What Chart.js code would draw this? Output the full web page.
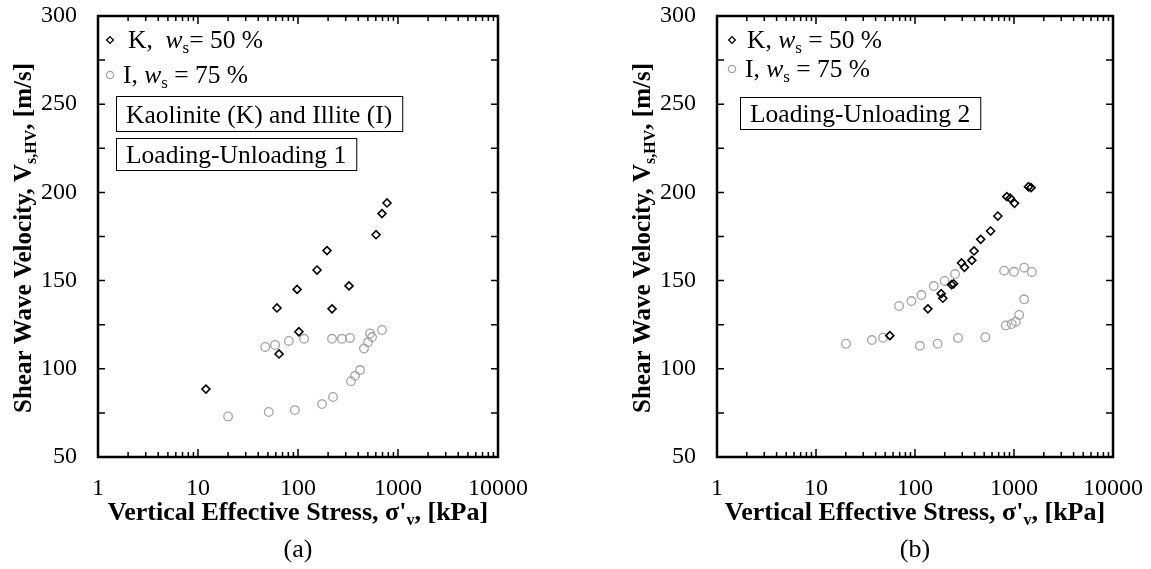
<!DOCTYPE html>
<html>
<head>
<meta charset="utf-8">
<script src="https://cdn.jsdelivr.net/npm/chart.js@4.4.0/dist/chart.umd.min.js"></script>
<style>
body { margin: 0; background: #fff; width: 1151px; height: 569px; overflow: hidden; position: relative; }
.pane { position: absolute; top: 0; height: 569px; }
</style>
</head>
<body>
<div class="pane" style="left:0;width:575px"><canvas id="chartA"></canvas></div>
<div class="pane" style="left:619px;width:532px"><canvas id="chartB"></canvas></div>
<script>
// (a) Loading-Unloading 1
var kStressA = [12, 61.6, 64.6, 98, 102, 155, 195, 219, 324, 603, 692, 776];
var kVsA = [88.5, 134.5, 108.4, 145, 121, 156, 167, 134, 147, 176, 188, 194];
var iStressA = [20, 51, 93, 174, 224, 339, 372, 417, 457, 501, 550, 525, 692, 331, 275, 219, 115, 81, 59, 47];
var iVsA = [73, 75.5, 76.6, 80, 84, 93, 96, 99.3, 111.5, 115, 118, 120, 122, 117.5, 117, 117, 117, 115.8, 113.5, 112.4];

// (b) Loading-Unloading 2
var kStressB = [55.7, 135, 184, 191, 234, 245, 295, 316, 375, 395, 461, 580, 687, 847, 916, 1012, 1399, 1487];
var kVsB = [118.8, 134, 142.6, 140, 147.7, 148.2, 160, 157.5, 161.5, 166.8, 173.4, 178.1, 186.6, 197.6, 196.7, 193.8, 203.2, 202.7];
var iStressB = [20.1, 36.7, 47.6, 69, 91.8, 116, 155, 199, 254, 112, 169, 272, 513, 828, 950, 1042, 1127, 1265, 795, 1000, 1265, 1514];
var iVsB = [114.2, 116.3, 117.6, 135.6, 138.4, 141.8, 146.9, 149.8, 153.7, 113, 114.2, 117.5, 117.9, 124.6, 125.4, 126.7, 130.5, 139.4, 155.6, 155, 157.3, 154.9];

var xTickLabels = [1, 10, 100, 1000, 10000];
var yTickLabels = [50, 100, 150, 200, 250, 300];

var serif = "'Liberation Serif', 'Times New Roman', serif";
var grey = '#a3a3a3';

function pts(xs, ys) {
    var out = [];
    for (let i = 0; i < xs.length; i++) {
        out.push({ x: xs[i], y: ys[i] });
    }
    return out;
}

// draws a row of text pieces (for italics / subscripts)
function richWidth(ctx, parts) {
    var w = 0;
    parts.forEach(function (p) { ctx.font = p.f; w += ctx.measureText(p.t).width; });
    return w;
}
function drawRich(ctx, parts, x, y) {
    parts.forEach(function (p) {
        ctx.font = p.f;
        ctx.fillText(p.t, x, y + (p.dy || 0));
        x += ctx.measureText(p.t).width;
    });
}

var framePlugin = {
    id: 'frame',
    afterDatasetsDraw: function (chart) {
        var ctx = chart.ctx, a = chart.chartArea;
        var xs = chart.scales.x, ys = chart.scales.y;
        ctx.save();
        ctx.strokeStyle = '#000';
        ctx.lineWidth = 1.5;
        ctx.beginPath();
        for (let v = 50; v <= 300; v += 25) {
            var py = ys.getPixelForValue(v);
            ctx.moveTo(a.left, py); ctx.lineTo(a.left + 7, py);
            ctx.moveTo(a.right, py); ctx.lineTo(a.right - 7, py);
        }
        for (let d = 1; d <= 1000; d *= 10) {
            for (let m = 1; m <= 9; m++) {
                var px = xs.getPixelForValue(m * d);
                var len = m == 1 ? 8 : 5;
                ctx.moveTo(px, a.bottom); ctx.lineTo(px, a.bottom - len);
                ctx.moveTo(px, a.top); ctx.lineTo(px, a.top + len);
            }
        }
        ctx.stroke();
        ctx.lineWidth = 2.5;
        ctx.strokeRect(a.left, a.top, a.right - a.left, a.bottom - a.top);
        ctx.restore();
    },
    afterDraw: function (chart, args, opts) {
        var ctx = chart.ctx, a = chart.chartArea;
        ctx.save();
        ctx.fillStyle = '#000';
        ctx.textBaseline = 'alphabetic';

        // y axis title
        var yParts = [
            { t: 'Shear Wave Velocity, V', f: 'bold 25px ' + serif },
            { t: 's,HV', f: 'bold 16px ' + serif, dy: 5 },
            { t: ', [m/s]', f: 'bold 25px ' + serif }
        ];
        ctx.save();
        ctx.translate(31, 238);
        ctx.rotate(-Math.PI / 2);
        drawRich(ctx, yParts, -richWidth(ctx, yParts) / 2, 0);
        ctx.restore();

        // x axis title
        var xParts = [
            { t: "Vertical Effective Stress, \u03c3'", f: 'bold 26px ' + serif },
            { t: 'v', f: 'bold 16px ' + serif, dy: 5 },
            { t: ', [kPa]', f: 'bold 26px ' + serif }
        ];
        var cx = (a.left + a.right) / 2;
        drawRich(ctx, xParts, cx - richWidth(ctx, xParts) / 2, 520);

        // panel label
        ctx.font = '26px ' + serif;
        ctx.textAlign = 'center';
        ctx.fillText(opts.panel, cx, 557);
        ctx.textAlign = 'left';

        // legend
        var lx = a.left + opts.legendDx;
        chart.data.datasets.forEach(function (ds, i) {
            var ly = opts.legendY[i];
            ctx.strokeStyle = ds.borderColor;
            ctx.lineWidth = 1.3;
            ctx.beginPath();
            if (ds.pointStyle == 'circle') {
                ctx.arc(lx, ly, 3.6, 0, Math.PI * 2);
            } else {
                ctx.moveTo(lx, ly - 3.4); ctx.lineTo(lx + 3.4, ly); ctx.lineTo(lx, ly + 3.4); ctx.lineTo(lx - 3.4, ly); ctx.closePath();
            }
            ctx.stroke();
            drawRich(ctx, [
                { t: opts.legendText[i][0], f: '25.5px ' + serif },
                { t: 'w', f: 'italic 25.5px ' + serif },
                { t: 's', f: '17px ' + serif, dy: 5 },
                { t: opts.legendText[i][1], f: '25.5px ' + serif }
            ], lx + opts.legendGap[i], ly + 8);
        });

        // text boxes
        ctx.font = '25.5px ' + serif;
        ctx.lineWidth = 1;
        ctx.strokeStyle = '#000';
        opts.boxes.forEach(function (b) {
            var w = ctx.measureText(b.text).width + 20;
            ctx.strokeRect(b.x + 0.5, b.y + 0.5, w, b.h);
            ctx.fillText(b.text, b.x + 10, b.y + b.h / 2 + 9);
        });
        ctx.restore();
    }
};

function makeChart(id, kx, ky, ix, iy, rightPad, deco) {
    return new Chart(document.getElementById(id).getContext('2d'), {
        type: 'scatter',
        data: {
            datasets: [
                {
                    label: 'K, ws = 50 %',
                    data: pts(kx, ky),
                    pointStyle: 'rectRot',
                    pointRadius: 4,
                    borderColor: '#000',
                    backgroundColor: 'rgba(255,255,255,0)',
                    pointBorderWidth: 1.6
                },
                {
                    label: 'I, ws = 75 %',
                    data: pts(ix, iy),
                    pointStyle: 'circle',
                    pointRadius: 4.3,
                    borderColor: grey,
                    backgroundColor: 'rgba(255,255,255,0)',
                    pointBorderWidth: 1.3
                }
            ]
        },
        options: {
            responsive: true,
            maintainAspectRatio: false,
            animation: false,
            events: [],
            layout: { padding: { left: 0, top: 16, right: rightPad, bottom: 0 } },
            scales: {
                x: {
                    type: 'logarithmic',
                    min: 1,
                    max: 10000,
                    grid: { display: false, drawTicks: false },
                    border: { display: false },
                    afterFit: function (s) {
                        s.height = 112;
                        s.paddingLeft = 0;
                        s.paddingRight = 0;
                    },
                    afterBuildTicks: function (s) {
                        s.ticks = xTickLabels.map(function (v) { return { value: v }; });
                    },
                    ticks: {
                        color: '#000',
                        padding: 17,
                        maxRotation: 0,
                        autoSkip: false,
                        font: { family: serif, size: 24 },
                        callback: function (v) { return String(v); }
                    }
                },
                y: {
                    min: 50,
                    max: 300,
                    grid: { display: false, drawTicks: false },
                    border: { display: false },
                    afterFit: function (s) {
                        s.width = 98;
                        s.paddingTop = 0;
                        s.paddingBottom = 0;
                    },
                    afterBuildTicks: function (s) {
                        s.ticks = yTickLabels.map(function (v) { return { value: v }; });
                    },
                    ticks: {
                        color: '#000',
                        padding: 21,
                        font: { family: serif, size: 24 }
                    }
                }
            },
            plugins: {
                legend: { display: false },
                tooltip: { enabled: false },
                frame: deco
            }
        },
        plugins: [framePlugin]
    });
}

makeChart('chartA', kStressA, kVsA, iStressA, iVsA, 77, {
    panel: '(a)',
    legendDx: 12,
    legendY: [40, 75],
    legendGap: [18, 13],
    legendText: [['K,  ', '= 50 %'], ['I, ', ' = 75 %']],
    boxes: [
        { text: 'Kaolinite (K) and Illite (I)', x: 116, y: 96, h: 35 },
        { text: 'Loading-Unloading 1', x: 116, y: 138, h: 32 }
    ]
});

makeChart('chartB', kStressB, kVsB, iStressB, iVsB, 38, {
    panel: '(b)',
    legendDx: 15,
    legendY: [40, 69],
    legendGap: [15, 13],
    legendText: [['K, ', ' = 50 %'], ['I, ', ' = 75 %']],
    boxes: [
        { text: 'Loading-Unloading 2', x: 121, y: 97, h: 32 }
    ]
});
</script>
</body>
</html>
